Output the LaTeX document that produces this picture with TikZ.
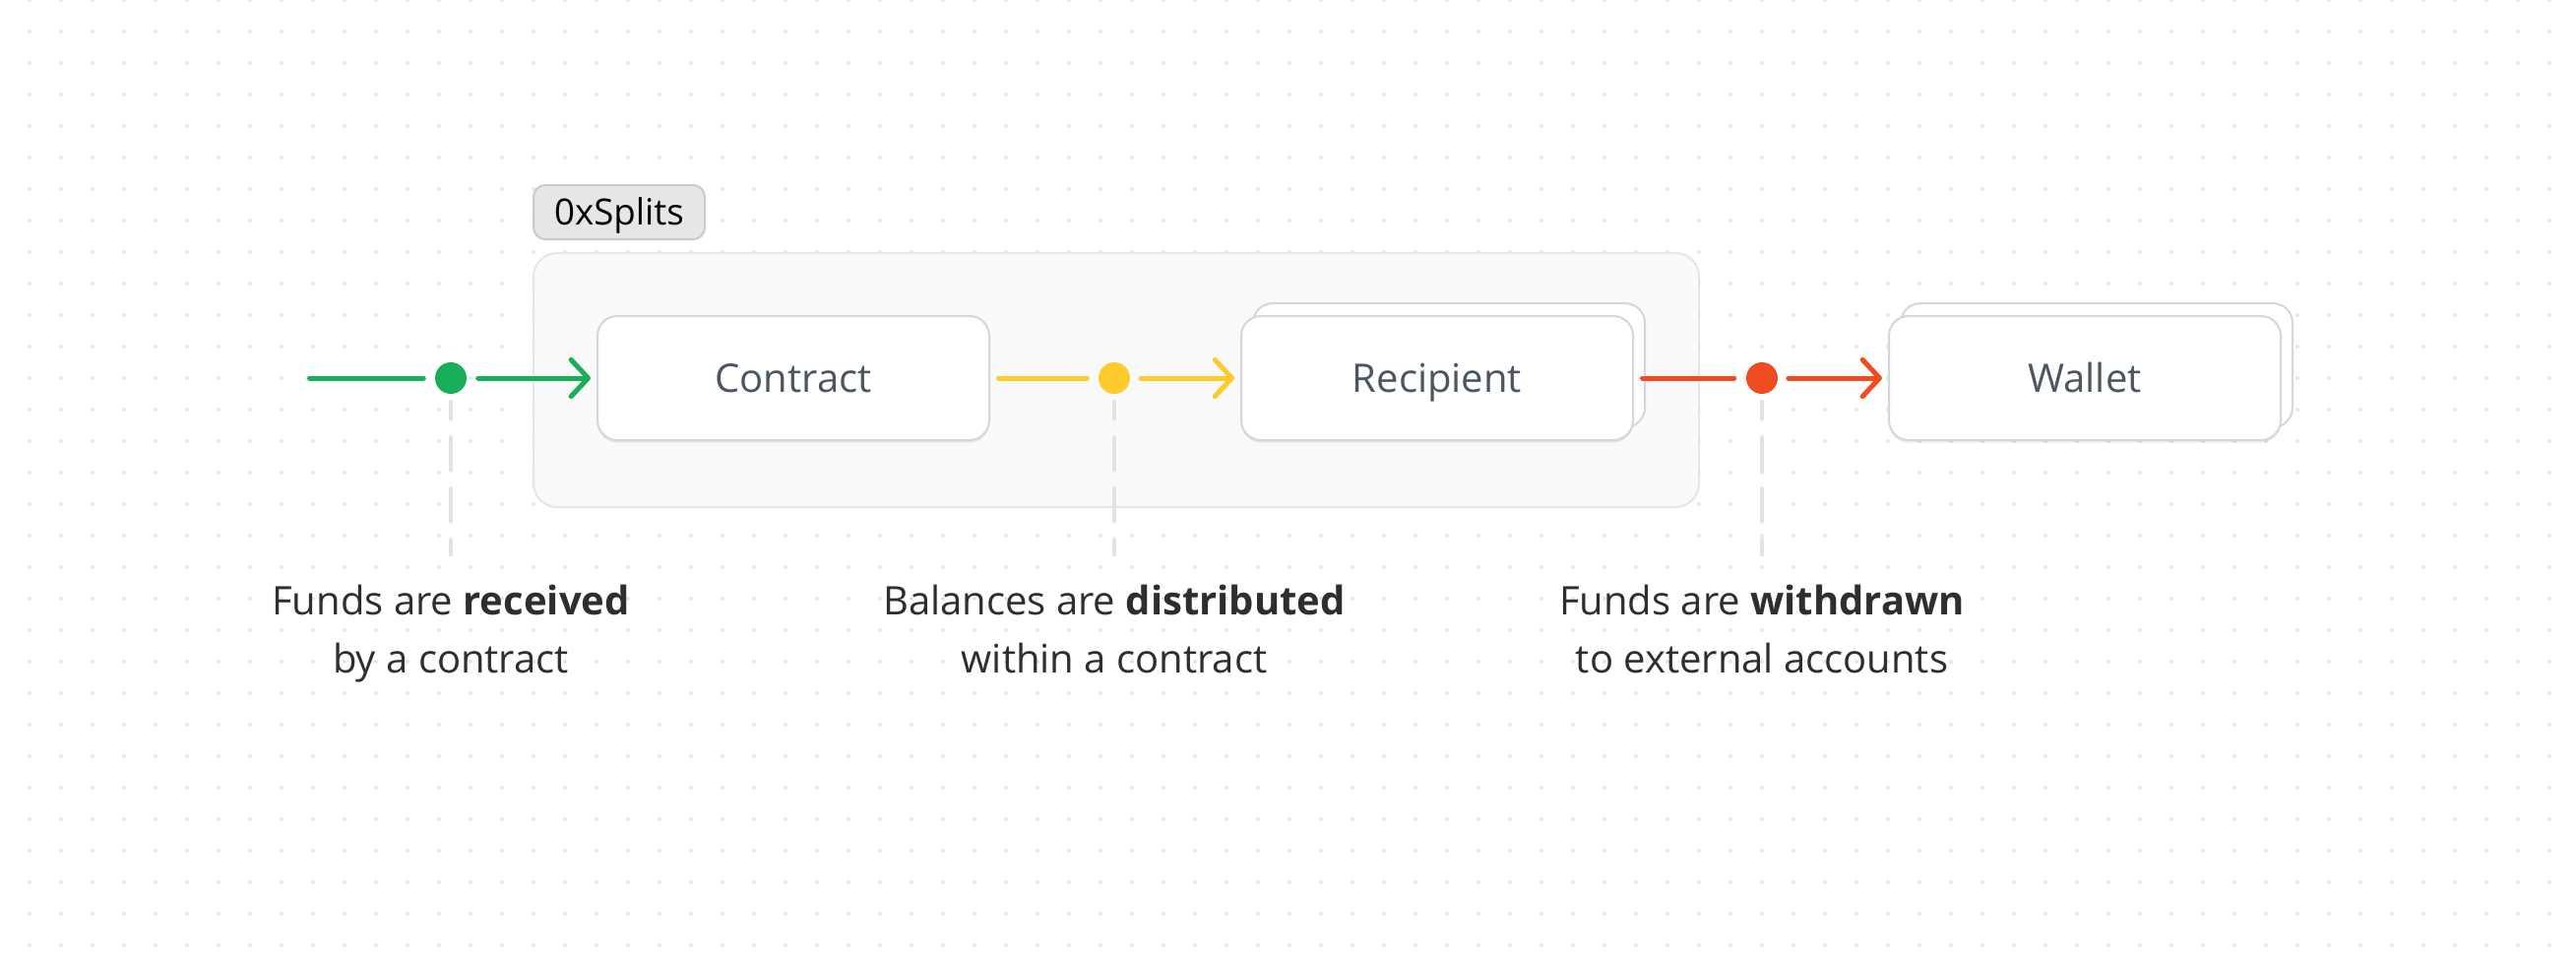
\documentclass[tikz,border=0pt]{standalone}
\usepackage{fontspec}
\setmainfont{Open Sans}
\usetikzlibrary{arrows.meta,shadows}
\definecolor{gridc}{HTML}{E4E4E4}
\definecolor{contfill}{HTML}{FAFAFA}
\definecolor{contborder}{HTML}{E6E6E6}
\definecolor{tagfill}{HTML}{E6E6E6}
\definecolor{tagborder}{HTML}{C9C9C9}
\definecolor{boxborder}{HTML}{D4D6DB}
\definecolor{boxtext}{HTML}{4B5563}
\definecolor{labtext}{HTML}{2E2E2E}
\definecolor{gline}{HTML}{18AE5A}
\definecolor{yline}{HTML}{FDCB2C}
\definecolor{rline}{HTML}{F14B22}
\definecolor{guidec}{HTML}{E3E3E3}
\tikzset{
  stagebox/.style={rectangle, rounded corners=15pt, draw=boxborder, line width=1.5pt,
    fill=white, minimum width=298.5pt, minimum height=94.5pt, inner sep=0pt,
    text height=21.5pt, text depth=0pt,
    text=boxtext, font=\fontsize{30}{36}\selectfont,
    drop shadow={shadow xshift=0pt, shadow yshift=-2pt, opacity=0.08, fill=black, draw=none}},
  stackbox/.style={stagebox,
    copy shadow={shadow xshift=9pt, shadow yshift=9.75pt, fill=white, draw=boxborder, line width=1.5pt, opacity=1}},
  groupbox/.style={rectangle, rounded corners=18pt, draw=contborder, line width=1.5pt,
    fill=contfill, minimum width=888pt, minimum height=193.5pt, inner sep=0pt},
  tagbox/.style={rectangle, rounded corners=9pt, draw=tagborder, line width=1.5pt,
    fill=tagfill, minimum width=130.5pt, minimum height=41.25pt, inner sep=0pt,
    text height=19.5pt, text depth=0pt,
    text=black, font=\fontsize{27.5}{32}\selectfont},
  pdot/.style={circle, minimum size=24pt, inner sep=0pt, fill=#1},
  flow/.style={line width=3.75pt, draw=#1, line cap=round},
  flowarrow/.style={flow=#1, -{Straight Barb[length=13pt, width=28pt, round]}},
  guide/.style={draw=guidec, line width=3.6pt, line cap=round,
    dash pattern=on 24.75pt off 14.25pt, dash phase=12pt},
  lab/.style={align=center, inner sep=0pt, text=labtext,
    font=\fontsize{30}{44.25}\selectfont},
}
\begin{document}
\begin{tikzpicture}[x=0.75pt, y=-0.75pt]
\useasboundingbox (0,0) rectangle (2617,972);
% dot grid
\foreach \i in {0,...,80}{
  \foreach \j in {0,...,30}{
    \fill[gridc] (30+32*\i, 32*\j) circle (1.5pt);
  }
}
% group container and its tag
\node[groupbox] (grp) at (1134,386) {};
\node[tagbox] (tag) at (629,215.5) {0xSplits};
% stage boxes
\node[stagebox] (con) at (806,384) {Contract};
\node[stackbox] (rec) at (1460,384) {Recipient};
\node[stackbox] (wal) at (2118,384) {Wallet};
% dots
\node[pdot=gline] (d1) at (458,384) {};
\node[pdot=yline] (d2) at (1132,384) {};
\node[pdot=rline] (d3) at (1790,384) {};
% free ends
\coordinate (s0) at (314.5,384);
\coordinate (c1) at (458,563);
\coordinate (c2) at (1132,563);
\coordinate (c3) at (1790,563);
% connectors
\draw[flow=gline, shorten >=8.6pt] (s0) -- (d1);
\draw[flowarrow=gline, shorten <=8.6pt, shorten >=4.5pt] (d1) -- (con);
\draw[flow=yline, shorten <=6.4pt, shorten >=8.6pt] (con) -- (d2);
\draw[flowarrow=yline, shorten <=8pt, shorten >=4.5pt] (d2) -- (rec);
\draw[flow=rline, shorten <=6.4pt, shorten >=9pt] (rec) -- (d3);
\draw[flowarrow=rline, shorten <=8pt, shorten >=4.5pt] (d3) -- (wal);
% guides
\draw[guide, shorten <=6pt] (d1) -- (c1);
\draw[guide, shorten <=6pt] (d2) -- (c2);
\draw[guide, shorten <=6pt] (d3) -- (c3);
% labels (base anchor = baseline of the last line)
\node[lab, anchor=base] (l1) at (458,683) {Funds are \textbf{received}\\by a contract};
\node[lab, anchor=base] (l2) at (1132,683) {Balances are \textbf{distributed}\\within a contract};
\node[lab, anchor=base] (l3) at (1790,683) {Funds are \textbf{withdrawn}\\to external accounts};
\end{tikzpicture}
\end{document}
